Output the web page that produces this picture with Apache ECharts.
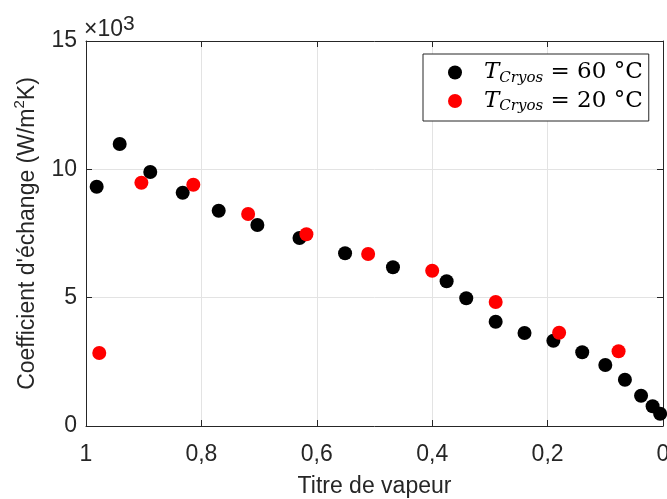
<!DOCTYPE html>
<html>
<head>
<meta charset="utf-8">
<script src="https://cdn.jsdelivr.net/npm/echarts@6/dist/echarts.min.js"></script>
<style>html,body{margin:0;padding:0;background:#fff}#c{width:667px;height:499px}</style>
</head>
<body>
<div id="c"></div>
<script>
// Data
const hotX = [0.9815, 0.9416, 0.8886, 0.8324, 0.770, 0.703, 0.630, 0.551, 0.468, 0.375, 0.341, 0.290, 0.240, 0.190, 0.140, 0.100, 0.066, 0.038, 0.018, 0.005];
const hotY = [9323, 10987, 9896, 9090, 8388, 7831, 7325, 6729, 6183, 5638, 4975, 4064, 3623, 3323, 2871, 2377, 1804, 1181, 768, 479];
const coldX = [0.977, 0.904, 0.814, 0.719, 0.618, 0.511, 0.400, 0.290, 0.180, 0.077];
const coldY = [2844, 9479, 9401, 8260, 7469, 6701, 6051, 4831, 3636, 2910];
const xTicks = [0, 0.2, 0.4, 0.6, 0.8, 1];
const yTicks = [0, 5000, 10000, 15000];
const seriesNames = ['60', '20'];

const pair = (xs, ys) => xs.map((x, i) => [x, ys[i]]);
const axisCol = '#262626';
const gridCol = '#e3e3e3';
const sans = 'Liberation Sans';
const serif = 'DejaVu Serif';

const frameAxis = {
  axisLine: {show: true, onZero: false, lineStyle: {color: axisCol, width: 1}},
  axisTick: {show: true, inside: true, length: 6, lineStyle: {color: axisCol}}
};

const chart = echarts.init(document.getElementById('c'), null, {renderer: 'canvas'});
chart.setOption({
  animation: false,
  backgroundColor: '#fff',
  grid: {left: 86, right: 4, top: 41, bottom: 73, containLabel: false, outerBoundsMode: 'none'},
  xAxis: [Object.assign({
    type: 'value', min: 0, max: 1, interval: 0.2, inverse: true,
    splitLine: {show: true, lineStyle: {color: gridCol, width: 1}},
    axisLabel: {color: axisCol, fontFamily: sans, fontSize: 23, margin: 17,
      formatter: v => (xTicks.includes(+v.toFixed(1)) ? String(+v.toFixed(1)).replace('.', ',') : '')},
    name: 'Titre de vapeur', nameLocation: 'middle', nameGap: 49,
    nameTextStyle: {color: axisCol, fontFamily: sans, fontSize: 23}
  }, frameAxis), Object.assign({
    type: 'value', min: 0, max: 1, interval: 0.2, inverse: true, position: 'top',
    splitLine: {show: false}, axisLabel: {show: false}
  }, frameAxis)],
  yAxis: [Object.assign({
    type: 'value', min: 0, max: 15000, interval: 5000,
    splitLine: {show: true, lineStyle: {color: gridCol, width: 1}},
    axisLabel: {color: axisCol, fontFamily: sans, fontSize: 23, margin: 9,
      formatter: v => (yTicks.includes(v) ? String(v / 1000) : '')},
    name: 'Coefficient d\'échange (W/m{sup|2}K)', nameLocation: 'middle', nameGap: 43,
    nameTextStyle: {color: axisCol, fontFamily: sans, fontSize: 23,
      rich: {sup: {fontFamily: sans, fontSize: 15, color: axisCol, verticalAlign: 'top', padding: [0, 0, 16, 0]}}}
  }, frameAxis), Object.assign({
    type: 'value', min: 0, max: 15000, interval: 5000, position: 'right',
    splitLine: {show: false}, axisLabel: {show: false}
  }, frameAxis)],
  legend: {
    orient: 'vertical', left: 423, top: 54,
    backgroundColor: '#fff', borderColor: axisCol, borderWidth: 1,
    padding: [7, 6, 7, 25], itemGap: 4, itemWidth: 14, itemHeight: 14,
    icon: 'circle',
    data: seriesNames,
    formatter: n => '{t|T}{s|Cryos}{n| = ' + n + ' °C}',
    textStyle: {
      padding: [0, 0, 0, 17],
      rich: {
        t: {fontFamily: serif, fontStyle: 'italic', fontSize: 23, color: '#000', lineHeight: 26},
        s: {fontFamily: serif, fontStyle: 'italic', fontSize: 15, color: '#000', lineHeight: 15, verticalAlign: 'bottom', padding: [7, 0, 0, 0]},
        n: {fontFamily: serif, fontSize: 23, color: '#000', lineHeight: 26}
      }
    }
  },
  graphic: [{
    type: 'text', left: 84, top: 14,
    style: {text: '×10{sup|3}', font: '23px "Liberation Sans"', fill: axisCol,
      rich: {sup: {fontFamily: sans, fontSize: 21, fill: axisCol, verticalAlign: 'top', padding: [0, 0, 10, 0]}}}
  }],
  series: [{
    name: seriesNames[0], type: 'scatter', symbol: 'circle', symbolSize: 14,
    itemStyle: {color: '#000', opacity: 1}, data: pair(hotX, hotY)
  }, {
    name: seriesNames[1], type: 'scatter', symbol: 'circle', symbolSize: 14,
    itemStyle: {color: '#ff0000', opacity: 1}, data: pair(coldX, coldY)
  }]
});
</script>
</body>
</html>
